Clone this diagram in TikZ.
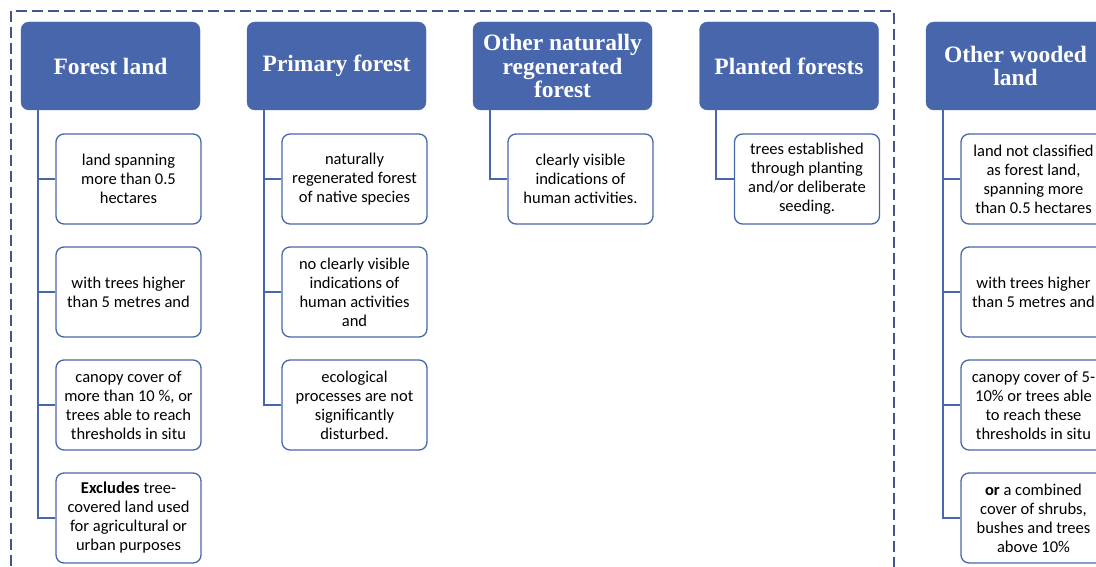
\documentclass[tikz,border=0pt]{standalone}
\usepackage{fontspec}
\setmainfont{Carlito}
\newfontfamily\headfont{Liberation Serif}
\definecolor{headblue}{RGB}{72,102,172}
\definecolor{frameblue}{RGB}{66,84,142}
\begin{document}
\begin{tikzpicture}
		[x=1pt,y=-1pt,
		head/.style={rectangle,rounded corners=8pt,fill=headblue,draw=headblue,
text=white,align=center,inner sep=0pt,minimum width=179pt,minimum height=88pt,
font=\headfont\bfseries\fontsize{23.5}{23.5}\selectfont},
		leaf/.style={rectangle,rounded corners=8pt,draw=headblue,line width=1.3pt,
fill=white,align=center,inner sep=0pt,minimum width=145pt,minimum height=90pt,
font=\fontsize{16.5}{19}\selectfont},
		branch/.style={-,headblue,line width=1.8pt,
to path={(\tikztostart.west) -| ([xshift=17pt]\tikztotarget.south west)}}]
		\clip (0,0) rectangle (1096,567);
		\draw [frameblue,line width=1.3pt,dash pattern=on 11pt off 5pt]
			(11,11) rectangle (894,600);
		% forest land
		\node at (110.5, 66) (fl) [head] {Forest land};
		\node at (128.5, 179) (fl1) [leaf] {land spanning\\more than 0.5\\hectares}
			edge [branch] (fl);
		\node at (128.5, 292) (fl2) [leaf] {with trees higher\\than 5 metres and}
			edge [branch] (fl);
		\node at (128.5, 405) (fl3) [leaf] {canopy cover of\\more than 10 \%, or\\trees able to reach\\thresholds in situ}
			edge [branch] (fl);
		\node at (128.5, 518) (fl4) [leaf] {\textbf{Excludes} tree-\\covered land used\\for agricultural or\\urban purposes}
			edge [branch] (fl);
		% primary forest
		\node at (336.5, 66) (pf) [head] {Primary forest};
		\node at (354.5, 179) (pf1) [leaf] {naturally\\regenerated forest\\of native species}
			edge [branch] (pf);
		\node at (354.5, 292) (pf2) [leaf] {no clearly visible\\indications of\\human activities\\and}
			edge [branch] (pf);
		\node at (354.5, 405) (pf3) [leaf] {ecological\\processes are not\\significantly\\disturbed.}
			edge [branch] (pf);
		% other naturally regenerated
		\node at (562.5, 66) (nr) [head] {Other naturally\\regenerated\\forest};
		\node at (580.5, 179) (nr1) [leaf] {clearly visible\\indications of\\human activities.}
			edge [branch] (nr);
		% planted
		\node at (789, 66) (pl) [head] {Planted forests};
		\node at (807, 179) (pl1) [leaf] {trees established\\through planting\\and/or deliberate\\seeding.}
			edge [branch] (pl);
		% other wooded land
		\node at (1015.5, 66) (ow) [head] {Other wooded\\land};
		\node at (1033.5, 179) (ow1) [leaf] {land not classified\\as forest land,\\spanning more\\than 0.5 hectares}
			edge [branch] (ow);
		\node at (1033.5, 292) (ow2) [leaf] {with trees higher\\than 5 metres and}
			edge [branch] (ow);
		\node at (1033.5, 405) (ow3) [leaf] {canopy cover of 5-\\10\% or trees able\\to reach these\\thresholds in situ}
			edge [branch] (ow);
		\node at (1033.5, 518) (ow4) [leaf] {\textbf{or} a combined\\cover of shrubs,\\bushes and trees\\above 10\%}
			edge [branch] (ow);
	\end{tikzpicture}
\end{document}
